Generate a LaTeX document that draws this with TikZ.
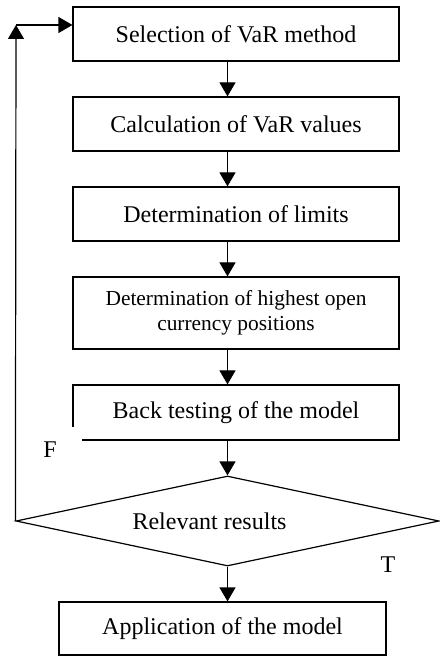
\documentclass[tikz,border=0pt]{standalone}
\usepackage{fontspec}
\setmainfont{Liberation Serif}
\usetikzlibrary{shapes.geometric, arrows.meta}

\tikzset{
  stepbox/.style={draw, line width=0.6pt, minimum width=163pt, minimum height=27pt, inner sep=0pt, font=\fontsize{12}{14}\selectfont},
  flow/.style={line width=0.6pt, -{Triangle[length=7pt,width=8pt]}},
  decision/.style={draw, diamond, line width=0.6pt, aspect=4.7, minimum width=211.5pt, minimum height=45pt, inner sep=0pt, font=\fontsize{12}{14}\selectfont}
}

\begin{document}
\begin{tikzpicture}[x=0.5pt, y=-0.5pt]
        \useasboundingbox (0,0) rectangle (439,656);

        % Schritte des Verfahrens
        \node[stepbox] (sel) at (236,34) {Selection of VaR method};
        \node[stepbox] (calc) at (236,124) {Calculation of VaR values};
        \node[stepbox] (lim) at (236,214) {Determination of limits};
        \node[stepbox, minimum height=36pt, align=center, font=\fontsize{10.7}{12.5}\selectfont] (pos) at (236,313) {Determination of highest open\\currency positions};
        \node[stepbox, minimum height=27.5pt] (back) at (236,412.5) {Back testing of the model};

        % Entscheidung
        \node[decision] (dec) at (227.5,521) {Relevant results\hspace*{18pt}};
        \node[stepbox, minimum width=163.5pt, minimum height=26.5pt] (app) at (222.5,628.5) {Application of the model};

        % Beschriftungen der Zweige
        \node[fill=white, minimum width=32pt, minimum height=23pt, inner sep=0pt, font=\fontsize{12}{14}\selectfont] (f) at (50,450) {F};
        \node[font=\fontsize{12}{14}\selectfont] (t) at (388,565) {T};

        % Pfeile
        \draw[flow] (sel.south -| dec.north) -- (calc.north -| dec.north);
        \draw[flow] (calc.south -| dec.north) -- (lim.north -| dec.north);
        \draw[flow] (lim.south -| dec.north) -- (pos.north -| dec.north);
        \draw[flow] (pos.south -| dec.north) -- (back.north -| dec.north);
        \draw[flow] (back.south -| dec.north) -- (dec.north);
        \draw[flow] (dec.south) -- (app.north -| dec.south);

        % Rueckfuehrung
        \coordinate (corner) at (16,25);
        \draw[flow] (dec.west) -- (corner);
        \draw[flow] (corner) -- (corner -| sel.west);

    \end{tikzpicture}
\end{document}
